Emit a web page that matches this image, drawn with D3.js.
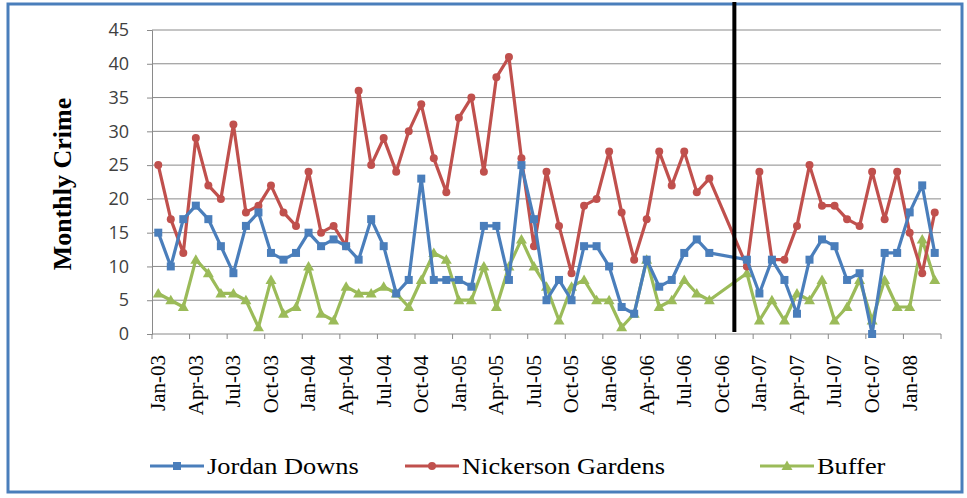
<!DOCTYPE html>
<html>
<head>
<meta charset="utf-8">
<script src="https://cdn.jsdelivr.net/npm/d3@7/dist/d3.min.js"></script>
<style>
  html, body { margin: 0; padding: 0; background: #fff; }
  svg { display: block; }
</style>
</head>
<body>
<svg id="chart" width="967" height="498"></svg>
<script>
// Monthly crime counts, Jan 2003 – Mar 2008 (Oct/Nov 2006 not reported)
const jordanDowns = [15,10,17,19,17,13,9,16,18,12,11,12,15,13,14,13,11,17,13,6,8,23,8,8,8,7,16,16,8,25,17,5,8,5,13,13,10,4,3,11,7,8,12,14,12,null,null,11,6,11,8,3,11,14,13,8,9,0,12,12,18,22,12];
const nickersonGardens = [25,17,12,29,22,20,31,18,19,22,18,16,24,15,16,13,36,25,29,24,30,34,26,21,32,35,24,38,41,26,13,24,16,9,19,20,27,18,11,17,27,22,27,21,23,null,null,10,24,11,11,16,25,19,19,17,16,24,17,24,15,9,18];
const buffer = [6,5,4,11,9,6,6,5,1,8,3,4,10,3,2,7,6,6,7,6,4,8,12,11,5,5,10,4,10,14,10,7,2,7,8,5,5,1,3,11,4,5,8,6,5,null,null,9,2,5,2,6,5,8,2,4,8,2,8,4,4,14,8];

const tickLabels = ["Jan-03","Apr-03","Jul-03","Oct-03","Jan-04","Apr-04","Jul-04","Oct-04","Jan-05","Apr-05","Jul-05","Oct-05","Jan-06","Apr-06","Jul-06","Oct-06","Jan-07","Apr-07","Jul-07","Oct-07","Jan-08"];
const yTicks = [0,5,10,15,20,25,30,35,40,45];
const interventionMonth = "Nov-06";

const fmt = d3.timeFormat("%b-%y");
const months = d3.timeMonth.range(new Date(2003, 0, 1), new Date(2008, 3, 1)).map(fmt);

const series = [
  { name: "Jordan Downs", values: jordanDowns, color: "#4a7ebb", marker: "square" },
  { name: "Nickerson Gardens", values: nickersonGardens, color: "#c0504d", marker: "circle" },
  { name: "Buffer", values: buffer, color: "#9bbb59", marker: "triangle" }
];

const svg = d3.select("#chart");
const plotLeft = 152, plotRight = 941, plotTop = 30, plotBottom = 334;

// outer frame
svg.append("rect")
  .attr("x", 8).attr("y", 4).attr("width", 954).attr("height", 488)
  .attr("fill", "#fff").attr("stroke", "#4a7ebb").attr("stroke-width", 3);

const x = d3.scaleBand().domain(months).range([plotLeft, plotRight]).padding(0);
const bw = x.bandwidth();
const cx = m => x(m) + bw / 2;
const y = d3.scaleLinear().domain([0, 45]).range([plotBottom, plotTop]);

// horizontal gridlines
svg.append("g")
  .selectAll("line")
  .data(yTicks.filter(t => t > 0))
  .join("line")
  .attr("x1", plotLeft).attr("x2", plotRight)
  .attr("y1", d => y(d)).attr("y2", d => y(d))
  .attr("stroke", "#8a8a8a").attr("stroke-width", 1);

// y axis
const yAxis = svg.append("g")
  .attr("transform", `translate(${plotLeft},0)`)
  .call(d3.axisLeft(y).tickValues(yTicks).tickSize(5).tickPadding(18));
yAxis.select(".domain").attr("stroke", "#8a8a8a");
yAxis.selectAll(".tick line").attr("stroke", "#8a8a8a");
yAxis.selectAll(".tick text")
  .attr("font-family", "'Open Sans', 'Noto Sans', sans-serif")
  .attr("font-size", 18).attr("fill", "#404040");

// x axis: tick marks at quarter boundaries, labels on the first month of each quarter
const xAxis = svg.append("g")
  .attr("transform", `translate(0,${plotBottom})`)
  .call(d3.axisBottom(x).tickValues(tickLabels).tickSize(0).tickPadding(0));
xAxis.select(".domain").attr("stroke", "#8a8a8a").attr("d", `M${plotLeft},0H${plotRight}`);
xAxis.selectAll(".tick text")
  .attr("font-family", "'Liberation Serif', 'Times New Roman', serif")
  .attr("font-size", 21).attr("fill", "#000")
  .attr("text-anchor", "end")
  .attr("dy", "0.33em")
  .attr("transform", "translate(0,21) rotate(-90)")
  .attr("x", 0).attr("y", 0);

const quarterEdges = months.filter((m, i) => i % 3 === 0).map(m => x(m)).concat([plotRight]);
svg.append("g")
  .selectAll("line")
  .data(quarterEdges)
  .join("line")
  .attr("x1", d => d).attr("x2", d => d)
  .attr("y1", plotBottom).attr("y2", plotBottom + 5)
  .attr("stroke", "#8a8a8a");

// y axis title
svg.append("text")
  .attr("transform", "translate(71,184) rotate(-90)")
  .attr("text-anchor", "middle")
  .attr("font-family", "'Liberation Serif', 'Times New Roman', serif")
  .attr("font-weight", "bold")
  .attr("font-size", 26)
  .text("Monthly Crime");

// marker shapes
function drawMarker(g, kind, color) {
  if (kind === "square") {
    g.append("rect").attr("x", -4).attr("y", -4).attr("width", 8).attr("height", 8).attr("fill", color);
  } else if (kind === "circle") {
    g.append("circle").attr("r", 4).attr("fill", color);
  } else {
    g.append("path").attr("d", "M0,-5.5L5.5,4L-5.5,4Z").attr("fill", color);
  }
}

// series lines and markers (Buffer first, then Nickerson, Jordan Downs on top)
const drawOrder = [series[2], series[1], series[0]];
const line = d3.line().x(d => cx(d.m)).y(d => y(d.v));
drawOrder.forEach(s => {
  const pts = months.map((m, i) => ({ m, v: s.values[i] })).filter(d => d.v !== null);
  svg.append("path")
    .datum(pts)
    .attr("d", line)
    .attr("fill", "none")
    .attr("stroke", s.color)
    .attr("stroke-width", 3.2)
    .attr("stroke-linejoin", "round");
  const mg = svg.append("g");
  pts.forEach(d => {
    const g = mg.append("g").attr("transform", `translate(${cx(d.m)},${y(d.v)})`);
    drawMarker(g, s.marker, s.color);
  });
});

// intervention marker line
svg.append("line")
  .attr("x1", cx(interventionMonth)).attr("x2", cx(interventionMonth))
  .attr("y1", 2).attr("y2", plotBottom - 2)
  .attr("stroke", "#000").attr("stroke-width", 4);

// legend
const legendX = [150, 405, 760];
const legendY = 466;
series.forEach((s, i) => {
  const g = svg.append("g").attr("transform", `translate(${legendX[i]},${legendY})`);
  g.append("line").attr("x1", 0).attr("x2", 54).attr("y1", 0).attr("y2", 0)
    .attr("stroke", s.color).attr("stroke-width", 3);
  const mk = g.append("g").attr("transform", "translate(27,0)");
  drawMarker(mk, s.marker, s.color);
  g.append("text")
    .attr("transform", "translate(57,8) scale(1.1,1)")
    .attr("font-family", "'Liberation Serif', 'Times New Roman', serif")
    .attr("font-size", 24)
    .attr("fill", "#000")
    .text(s.name);
});
</script>
</body>
</html>
